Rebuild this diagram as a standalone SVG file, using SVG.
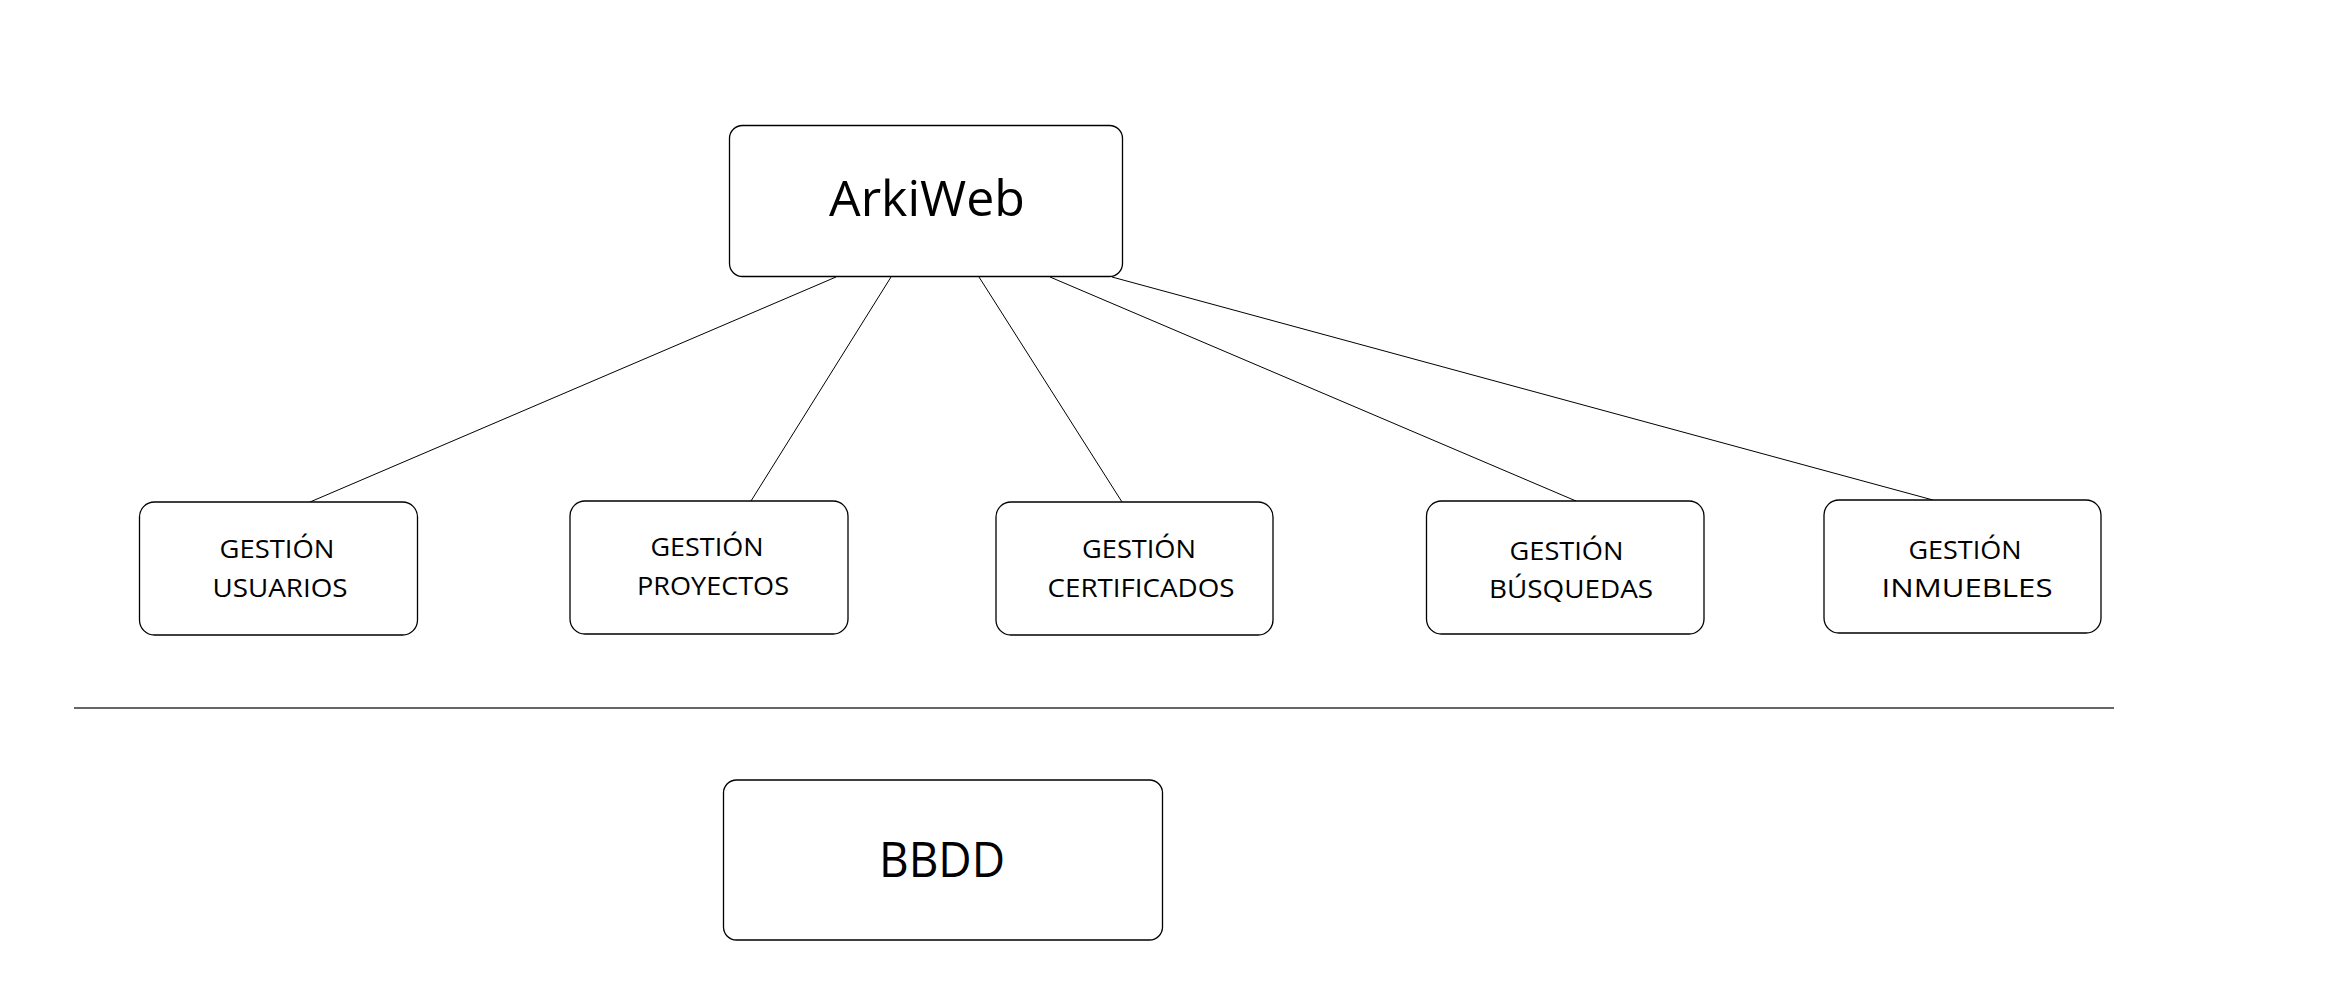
<svg xmlns="http://www.w3.org/2000/svg" width="2337" height="1008" viewBox="0 0 2337 1008">
<style>
  .box { fill: #ffffff; stroke: #000000; stroke-width: 1.3; }
  .conn { stroke: #000000; stroke-width: 1; fill: none; }
  .sep { stroke: #333333; stroke-width: 1.5; }
  text { font-family: "Open Sans", "Liberation Sans", sans-serif; fill: #000000; text-anchor: middle; }
  .big { font-size: 50px; }
  .small { font-size: 26px; }
</style>
<rect width="2337" height="1008" fill="#ffffff"/>
<g id="connectors">
  <line class="conn" x1="836" y1="277" x2="310" y2="502"/>
  <line class="conn" x1="891" y1="277" x2="751" y2="501"/>
  <line class="conn" x1="979" y1="277" x2="1122" y2="502"/>
  <line class="conn" x1="1050" y1="277" x2="1576" y2="501"/>
  <line class="conn" x1="1112" y1="277" x2="1933" y2="500"/>
</g>
<g id="arkiweb">
  <rect class="box" x="729.5" y="125.5" width="393" height="151" rx="13"/>
  <text class="big" x="927" y="216" textLength="196" lengthAdjust="spacingAndGlyphs">ArkiWeb</text>
</g>
<g id="gestion-usuarios">
  <rect class="box" x="139.5" y="502" width="278" height="133" rx="15"/>
  <text class="small" x="277" y="558" textLength="115" lengthAdjust="spacingAndGlyphs">GESTIÓN</text>
  <text class="small" x="280" y="597" textLength="135" lengthAdjust="spacingAndGlyphs">USUARIOS</text>
</g>
<g id="gestion-proyectos">
  <rect class="box" x="570" y="501" width="278" height="133" rx="15"/>
  <text class="small" x="707" y="556" textLength="113" lengthAdjust="spacingAndGlyphs">GESTIÓN</text>
  <text class="small" x="713" y="595" textLength="152" lengthAdjust="spacingAndGlyphs">PROYECTOS</text>
</g>
<g id="gestion-certificados">
  <rect class="box" x="996" y="502" width="277" height="133" rx="15"/>
  <text class="small" x="1139" y="558" textLength="114" lengthAdjust="spacingAndGlyphs">GESTIÓN</text>
  <text class="small" x="1141" y="597" textLength="187" lengthAdjust="spacingAndGlyphs">CERTIFICADOS</text>
</g>
<g id="gestion-busquedas">
  <rect class="box" x="1426.5" y="501" width="277.5" height="133" rx="15"/>
  <text class="small" x="1566.5" y="560" textLength="114" lengthAdjust="spacingAndGlyphs">GESTIÓN</text>
  <text class="small" x="1571" y="598" textLength="164" lengthAdjust="spacingAndGlyphs">BÚSQUEDAS</text>
</g>
<g id="gestion-inmuebles">
  <rect class="box" x="1824" y="500" width="277" height="133" rx="15"/>
  <text class="small" x="1965" y="559" textLength="113" lengthAdjust="spacingAndGlyphs">GESTIÓN</text>
  <text class="small" x="1967" y="597" font-size="28" textLength="171" lengthAdjust="spacingAndGlyphs">INMUEBLES</text>
</g>
<line class="sep" x1="74" y1="708" x2="2114" y2="708"/>
<g id="bbdd">
  <rect class="box" x="723.5" y="780" width="439" height="160" rx="13"/>
  <text class="big" x="942" y="877" font-size="47" textLength="126" lengthAdjust="spacingAndGlyphs">BBDD</text>
</g>
</svg>
